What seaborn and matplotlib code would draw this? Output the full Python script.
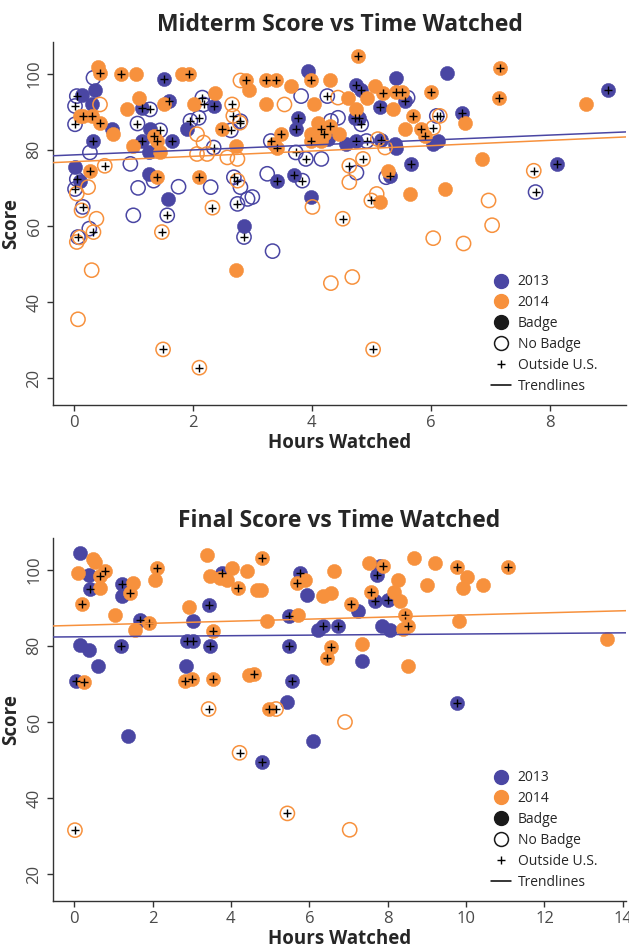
import numpy as np
import pandas as pd
import matplotlib
matplotlib.use('Agg')
import matplotlib.pyplot as plt
import seaborn as sns
from matplotlib.lines import Line2D

sns.set_style('ticks')
plt.rcParams['font.family'] = ['Open Sans', 'DejaVu Sans']

blue = '#4a46a3'
orange = '#f7913d'

# ---- Midterm chart ----
# 2013, badge
mid_13_badge_h = [1.51, 0.35, 0.13, 0.30, 0.64, 0.33, 1.14, 1.60, 1.28, 1.14, 1.26, 1.65, 2.35, 1.90,
                  0.02, 0.10, 1.26, 1.59, 2.86, 3.93, 4.75, 4.82, 5.42, 5.56, 5.14, 3.76, 3.73, 4.27,
                  4.72, 4.80, 4.75, 4.58, 5.17, 5.40, 5.42, 6.04, 6.12, 5.31, 5.67, 3.42, 3.70, 3.99,
                  6.27, 8.97, 6.52, 8.12]
mid_13_badge_s = [98.7, 95.8, 94.5, 91.9, 85.4, 82.3, 91.0, 92.8, 85.4, 82.3, 79.3, 82.3, 91.5, 85.4,
                  75.4, 71.9, 73.7, 67.1, 59.9, 100.6, 97.1, 95.8, 98.9, 92.8, 91.2, 88.4, 85.4, 82.8,
                  88.4, 88.4, 82.3, 81.5, 82.5, 81.5, 80.6, 81.5, 82.3, 73.2, 76.3, 71.9, 73.5, 67.6,
                  100.2, 95.8, 89.7, 76.3]
mid_13_badge_out = [1, 0, 0, 0, 0, 1, 1, 1, 0, 1, 0, 1, 1, 0,
                    0, 0, 0, 0, 0, 0, 1, 1, 0, 1, 1, 1, 1, 0,
                    1, 1, 1, 0, 1, 0, 0, 0, 0, 1, 1, 1, 1, 0,
                    0, 1, 1, 1]
# 2013, no badge
mid_13_none_h = [0.33, 0.05, 0.02, 0.02, 0.27, 1.28, 1.07, 1.45, 2.16, 2.18, 1.96, 2.10, 2.35, 2.64,
                 0.95, 0.05, 0.02, 1.34, 1.08, 1.76, 2.30, 2.69, 2.80, 0.15, 1.00, 1.57, 2.75, 2.92,
                 0.26, 0.07, 2.86, 3.34, 3.82, 4.26, 5.61, 6.10, 2.80, 4.32, 4.44, 4.83, 4.92, 3.31,
                 3.73, 3.90, 4.16, 4.75, 5.25, 3.25, 3.84, 3.00, 7.76]
mid_13_none_s = [98.9, 94.1, 91.5, 86.7, 79.3, 90.6, 86.9, 85.1, 93.7, 91.9, 87.6, 88.4, 80.6, 85.1,
                 76.3, 72.3, 69.7, 71.9, 70.0, 70.3, 70.2, 72.8, 70.2, 65.0, 62.8, 62.8, 65.8, 67.1,
                 59.3, 57.1, 57.1, 53.4, 94.1, 94.1, 93.7, 88.9, 87.5, 87.6, 88.4, 86.7, 82.3, 82.3,
                 79.3, 77.6, 77.6, 74.0, 72.8, 73.7, 71.9, 67.6, 68.9]
mid_13_none_out = [0, 1, 1, 1, 0, 1, 1, 1, 1, 1, 1, 1, 1, 1,
                   0, 1, 1, 0, 0, 0, 0, 1, 0, 1, 0, 1, 1, 0,
                   0, 1, 1, 0, 0, 1, 0, 1, 1, 0, 0, 1, 1, 1,
                   1, 1, 0, 0, 0, 0, 1, 0, 1]
# 2014, badge
mid_14_badge_h = [0.41, 0.44, 0.79, 1.04, 1.82, 1.93, 0.16, 0.30, 0.10, 0.44, 0.66, 1.09, 1.51, 0.89,
                  1.34, 1.40, 1.00, 1.45, 2.02, 2.38, 2.49, 2.72, 0.27, 1.40, 2.10, 2.72, 4.77, 2.90,
                  2.94, 3.23, 3.39, 3.65, 3.98, 4.31, 3.23, 4.04, 4.61, 4.92, 5.06, 5.19, 5.42, 5.51,
                  6.01, 4.75, 5.37, 5.70, 4.10, 4.16, 4.21, 4.30, 4.46, 3.99, 3.99, 4.16, 5.56, 5.84,
                  5.90, 3.48, 3.42, 3.37, 5.28, 5.14, 5.65, 7.17, 7.14, 8.60, 6.57, 6.86, 6.24]
mid_14_badge_s = [101.7, 100.2, 99.9, 100.0, 99.9, 99.9, 88.9, 88.9, 88.9, 87.1, 84.1, 93.7, 91.9, 90.6,
                  83.7, 82.3, 81.0, 79.3, 91.9, 95.0, 85.4, 81.0, 74.5, 72.8, 72.8, 48.4, 104.5, 98.4,
                  95.8, 98.4, 98.4, 96.7, 98.2, 98.2, 91.9, 91.9, 93.7, 93.7, 96.7, 95.0, 95.2, 95.2,
                  95.2, 90.6, 90.6, 88.9, 87.1, 85.4, 84.1, 86.3, 84.1, 84.1, 82.3, 82.3, 85.4, 85.4,
                  83.7, 84.1, 80.6, 81.5, 74.5, 66.3, 68.3, 101.5, 93.7, 91.9, 87.1, 77.6, 69.7]
mid_14_badge_out = [0, 1, 1, 0, 0, 1, 1, 1, 0, 1, 0, 0, 0, 0,
                    1, 1, 0, 0, 0, 0, 1, 0, 1, 1, 1, 0, 1, 1,
                    0, 1, 1, 0, 1, 0, 0, 0, 0, 0, 0, 1, 1, 1,
                    1, 0, 0, 1, 0, 1, 1, 1, 0, 0, 1, 0, 0, 1,
                    1, 1, 1, 0, 0, 0, 0, 1, 1, 0, 0, 0, 0]
# 2014, no badge
mid_14_none_h = [0.44, 2.07, 2.18, 2.24, 2.07, 2.66, 2.68, 2.79, 2.58, 2.75, 0.52, 0.24, 0.05, 2.75,
                 0.13, 0.38, 2.33, 0.33, 0.05, 0.10, 1.48, 0.07, 0.30, 4.32, 4.68, 1.50, 2.11, 5.03,
                 2.80, 3.54, 4.44, 5.11, 5.23, 6.04, 4.63, 4.86, 4.63, 4.01, 5.00, 5.09, 4.52, 6.04,
                 6.15, 7.73, 6.97, 7.03, 6.55]
mid_14_none_s = [91.9, 84.1, 81.9, 78.9, 78.9, 91.9, 88.9, 87.1, 78.0, 77.6, 75.8, 70.2, 68.5, 71.9,
                 64.1, 61.9, 64.8, 58.4, 55.8, 57.0, 58.4, 35.5, 48.4, 45.0, 46.6, 27.6, 22.8, 27.6,
                 98.2, 91.9, 93.7, 82.8, 80.6, 85.8, 75.8, 77.6, 71.5, 65.0, 66.7, 68.4, 61.9, 56.8,
                 88.9, 74.5, 66.7, 60.2, 55.4]
mid_14_none_out = [0, 0, 0, 0, 0, 1, 1, 1, 0, 0, 1, 0, 0, 1,
                   0, 0, 1, 1, 0, 0, 1, 0, 0, 0, 0, 1, 1, 1,
                   0, 0, 0, 0, 0, 1, 1, 1, 0, 0, 1, 0, 1, 0,
                   1, 1, 0, 0, 0]
# trendlines: score at 0 hours, slope per hour
mid_trend_intercept = {2013: 78.66, 2014: 76.88}
mid_trend_slope = {2013: 0.65, 2014: 0.70}

# ---- Final chart ----
fin_13_badge_h = [0.15, 0.37, 0.41, 1.22, 1.22, 1.68, 0.15, 0.37, 1.19, 0.62, 0.05, 1.38, 3.77, 3.43,
                  3.03, 2.87, 3.04, 3.47, 2.86, 5.77, 5.93, 7.72, 7.80, 7.68, 8.02, 7.25, 5.47, 6.36,
                  6.72, 6.23, 7.85, 8.06, 5.49, 7.34, 5.55, 5.44, 6.10, 9.78, 4.80]
fin_13_badge_s = [104.3, 98.7, 94.8, 96.1, 93.1, 86.9, 80.2, 78.9, 80.0, 74.7, 70.7, 56.4, 99.0, 90.7,
                  86.6, 81.2, 81.2, 80.0, 74.6, 99.1, 93.3, 98.7, 101.0, 91.8, 92.1, 89.2, 87.9, 85.3,
                  85.3, 84.1, 85.3, 84.1, 79.9, 76.0, 70.7, 65.3, 55.0, 65.1, 49.5]
fin_13_badge_out = [0, 0, 1, 1, 0, 1, 0, 0, 1, 0, 1, 0, 1, 1,
                    0, 1, 1, 1, 0, 1, 0, 1, 0, 1, 1, 0, 1, 1,
                    1, 0, 0, 0, 1, 0, 1, 0, 0, 1, 1]
fin_13_none_h = []
fin_13_none_s = []
fin_13_none_out = []
fin_14_badge_h = [0.49, 0.53, 0.11, 0.66, 0.79, 0.66, 1.51, 1.43, 2.11, 2.07, 0.20, 1.05, 1.92, 1.56,
                  0.26, 3.38, 3.47, 3.72, 4.02, 4.40, 3.89, 4.19, 2.94, 3.53, 2.83, 3.00, 3.53, 4.45,
                  4.79, 4.66, 4.76, 5.68, 5.89, 6.64, 6.36, 6.55, 7.51, 7.87, 8.27, 8.66, 9.21, 9.00,
                  7.57, 8.15, 8.32, 7.07, 5.72, 4.91, 8.43, 8.53, 8.40, 6.55, 6.45, 7.34, 8.53, 4.59,
                  4.98, 9.78, 11.08, 10.03, 9.93, 10.43, 9.83, 13.59]
fin_14_badge_s = [102.8, 102.0, 99.0, 98.3, 99.6, 95.3, 96.6, 93.8, 100.3, 97.4, 90.9, 88.1, 86.0, 84.1,
                  70.5, 103.9, 98.3, 97.8, 100.3, 99.6, 97.4, 95.3, 90.3, 83.9, 70.7, 71.4, 71.3, 72.4,
                  103.0, 94.7, 94.7, 96.6, 97.4, 99.6, 93.1, 93.8, 101.7, 101.0, 97.4, 103.0, 101.7, 95.9,
                  94.0, 94.0, 91.8, 90.9, 88.1, 86.6, 88.2, 85.3, 84.5, 79.6, 76.9, 80.4, 74.7, 72.6,
                  63.4, 100.7, 100.7, 98.1, 95.3, 95.9, 86.6, 81.7]
fin_14_badge_out = [0, 0, 0, 1, 1, 0, 0, 1, 1, 0, 1, 0, 1, 0,
                    1, 0, 0, 0, 0, 0, 0, 1, 0, 1, 1, 1, 1, 0,
                    1, 0, 0, 1, 0, 0, 0, 0, 0, 1, 0, 0, 0, 0,
                    1, 0, 0, 1, 0, 0, 1, 1, 0, 1, 1, 0, 0, 1,
                    1, 1, 1, 0, 0, 0, 0, 0]
fin_14_none_h = [3.43, 5.15, 6.91, 4.22, 5.44, 7.03, 0.02]
fin_14_none_s = [63.4, 63.4, 60.0, 51.9, 36.0, 31.7, 31.6]
fin_14_none_out = [1, 1, 0, 1, 1, 0, 1]
fin_trend_intercept = {2013: 82.35, 2014: 85.36}
fin_trend_slope = {2013: 0.075, 2014: 0.274}


def build_frame(groups):
    parts = []
    for year, badge, h, s, out in groups:
        parts.append(pd.DataFrame({'hours': h, 'score': s, 'outside': out,
                                   'year': year, 'badge': badge}))
    return pd.concat(parts, ignore_index=True)


midterm = build_frame([
    (2013, 1, mid_13_badge_h, mid_13_badge_s, mid_13_badge_out),
    (2013, 0, mid_13_none_h, mid_13_none_s, mid_13_none_out),
    (2014, 1, mid_14_badge_h, mid_14_badge_s, mid_14_badge_out),
    (2014, 0, mid_14_none_h, mid_14_none_s, mid_14_none_out),
])
final = build_frame([
    (2013, 1, fin_13_badge_h, fin_13_badge_s, fin_13_badge_out),
    (2013, 0, fin_13_none_h, fin_13_none_s, fin_13_none_out),
    (2014, 1, fin_14_badge_h, fin_14_badge_s, fin_14_badge_out),
    (2014, 0, fin_14_none_h, fin_14_none_s, fin_14_none_out),
])

colors = {2013: blue, 2014: orange}


def draw_panel(ax, df, title, xlim, xticks, trend_b, trend_m):
    ax.set_xlim(xlim)
    ax.set_ylim(13, 108.3)
    for year in (2013, 2014):
        c = colors[year]
        sub = df[(df['year'] == year) & (df['badge'] == 0)]
        if len(sub):
            sns.scatterplot(data=sub, x='hours', y='score', ax=ax, s=105, color=c,
                            facecolor='none', edgecolor=c, linewidth=1.1, zorder=2)
        sub = df[(df['year'] == year) & (df['badge'] == 1)]
        sns.scatterplot(data=sub, x='hours', y='score', ax=ax, s=105, color=c,
                        edgecolor=c, linewidth=0.3, zorder=2)
    out = df[df['outside'] == 1]
    sns.scatterplot(data=out, x='hours', y='score', ax=ax, marker='+', s=36,
                    color='black', linewidth=1.0, zorder=3)
    # trendlines per year
    for year in (2013, 2014):
        ax.axline((0, trend_b[year]), slope=trend_m[year], color=colors[year], lw=1.1, zorder=4)
    ax.set_xlim(xlim)
    ax.set_ylim(13, 108.3)
    ax.set_xticks(xticks)
    ax.set_yticks([20, 40, 60, 80, 100])
    ax.tick_params(direction='out', length=4, width=1, colors='#333333', labelsize=12,
                   labelcolor='#4a4a4a')
    for lab in ax.get_yticklabels():
        lab.set_rotation(90)
        lab.set_va('center')
    for side in ('top', 'right'):
        ax.spines[side].set_visible(False)
    for side in ('left', 'bottom'):
        ax.spines[side].set_color('#333333')
        ax.spines[side].set_linewidth(1.0)
    ax.set_title(title, fontsize=16.5, fontweight='bold', pad=8)
    ax.set_xlabel('Hours Watched', fontsize=13.5, fontweight='bold', labelpad=1)
    ax.set_ylabel('Score', fontsize=13.5, fontweight='bold', labelpad=4)

    handles = [
        Line2D([], [], marker='o', ls='none', markersize=10, markerfacecolor=blue, markeredgecolor=blue),
        Line2D([], [], marker='o', ls='none', markersize=10, markerfacecolor=orange, markeredgecolor=orange),
        Line2D([], [], marker='o', ls='none', markersize=10, markerfacecolor='#1a1a1a', markeredgecolor='#1a1a1a'),
        Line2D([], [], marker='o', ls='none', markersize=10, markerfacecolor='none', markeredgecolor='#1a1a1a', mew=1.1),
        Line2D([], [], marker='+', ls='none', markersize=6, color='black', mew=1.0),
        Line2D([], [], color='black', lw=1.1),
    ]
    labels = ['2013', '2014', 'Badge', 'No Badge', 'Outside U.S.', 'Trendlines']
    ax.legend(handles, labels, loc='upper left', bbox_to_anchor=(0.755, 0.375), frameon=False,
              fontsize=10, handlelength=1.4, handletextpad=0.5, labelspacing=0.42, borderaxespad=0)


fig = plt.figure(figsize=(6.29, 9.49), dpi=100)
ax1 = fig.add_axes([53 / 629, 1 - 405 / 949, 573 / 629, 363 / 949])
ax2 = fig.add_axes([53 / 629, 1 - 901 / 949, 573 / 629, 363 / 949])

draw_panel(ax1, midterm, 'Midterm Score vs Time Watched', (-0.35, 9.28), [0, 2, 4, 6, 8],
           mid_trend_intercept, mid_trend_slope)
draw_panel(ax2, final, 'Final Score vs Time Watched', (-0.54, 14.08), [0, 2, 4, 6, 8, 10, 12, 14],
           fin_trend_intercept, fin_trend_slope)

fig.savefig('out.png', dpi=100)
